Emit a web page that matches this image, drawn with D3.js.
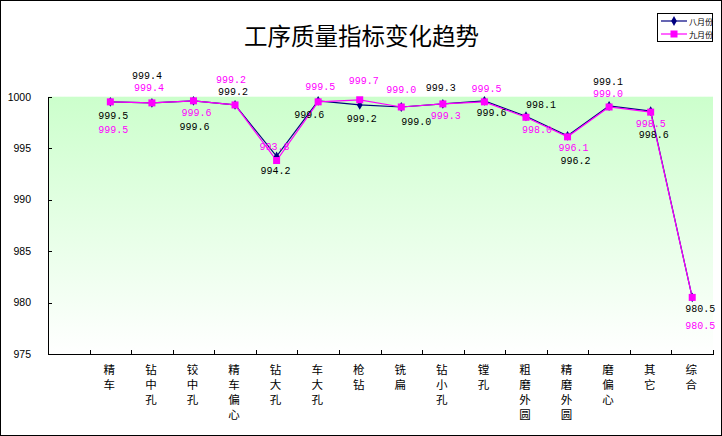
<!DOCTYPE html>
<html lang="zh-CN"><head><meta charset="utf-8">
<script src="https://cdn.jsdelivr.net/npm/d3@7"></script>
<style>
html,body{margin:0;padding:0;background:#fff;}
svg{display:block;}
</style></head>
<body>
<svg id="chart" width="722" height="436"></svg>
<script>
// ---- data ----
const title = "工序质量指标变化趋势";
const categories = ["", "精车", "钻中孔", "铰中孔", "精车偏心", "钻大孔", "车大孔", "枪钻", "铣扁", "钻小孔", "镗孔", "粗磨外圆", "精磨外圆", "磨偏心", "其它", "综合"];
const augValues = [null, 999.5, 999.4, 999.6, 999.2, 994.2, 999.6, 999.2, 999.0, 999.3, 999.6, 998.1, 996.2, 999.1, 998.6, 980.5];
const sepValues = [null, 999.5, 999.4, 999.6, 999.2, 993.8, 999.5, 999.7, 999.0, 999.3, 999.5, 998.0, 996.1, 999.0, 998.5, 980.5];
const seriesNames = ["八月份", "九月份"];
const yTickValues = [975, 980, 985, 990, 995, 1000];

// ---- layout (label offsets from each point, px) ----
const augLabelOffsets = [null, [3,15], [-5,-26], [1,27], [-2,-12], [-1,15], [-9,15], [2,15], [15,16], [-2,-15], [7,13], [15,-11], [8,26], [-1,-23], [3,24], [8,12]];
const sepLabelOffsets = [null, [3,29], [-3,-14], [3,13], [-4,-24], [-2,-13], [2,-14], [4,-18], [0,-16], [3,13], [2,-12], [11,13], [6,12], [-1,-12], [0,12], [8,29]];

const W = 722, H = 436;
const plot = {left: 48, right: 713, top: 96.7, bottom: 354};
const svg = d3.select("#chart");
const NAVY = "#000080", MAG = "#ff00ff";

// outer border
svg.append("rect").attr("x",0.5).attr("y",0.5).attr("width",W-1).attr("height",H-1)
  .attr("fill","#fff").attr("stroke","#000").attr("stroke-width",1);

// gradient
const defs = svg.append("defs");
const grad = defs.append("linearGradient").attr("id","bg").attr("x1",0).attr("y1",0).attr("x2",0).attr("y2",1);
grad.append("stop").attr("offset","0%").attr("stop-color","#ccffcc");
grad.append("stop").attr("offset","100%").attr("stop-color","#ffffff");

const x = d3.scaleBand().domain(d3.range(categories.length)).range([plot.left, plot.right]).padding(0);
const xb = d3.scaleLinear().domain([0, categories.length]).range([plot.left, plot.right]);
const y = d3.scaleLinear().domain([975, 1000]).range([plot.bottom, plot.top]);

svg.append("rect").attr("x",plot.left).attr("y",plot.top)
  .attr("width",plot.right-plot.left).attr("height",plot.bottom-plot.top).attr("fill","url(#bg)");

// title
svg.append("text").attr("x",361.5).attr("y",35).attr("text-anchor","middle").attr("dominant-baseline","central")
  .attr("font-family","'Noto Sans CJK SC', sans-serif").attr("font-size",23.5).attr("fill","#000").text(title);

// y axis
const yAxis = d3.axisLeft(y).tickValues(yTickValues).tickSizeInner(-4).tickSizeOuter(0).tickPadding(17).tickFormat(d3.format("d"));
const gy = svg.append("g").attr("transform",`translate(${plot.left},0)`).call(yAxis);
gy.selectAll("text").attr("font-family","'Liberation Sans', Arial, sans-serif").attr("font-size",10.5).attr("fill","#000");
gy.selectAll("line,path").attr("stroke","#000").attr("shape-rendering","crispEdges");

// x axis (ticks at category boundaries)
const xAxis = d3.axisBottom(xb).tickValues(d3.range(1, categories.length + 1)).tickSizeInner(-4).tickSizeOuter(0).tickFormat("");
const gx = svg.append("g").attr("transform",`translate(0,${plot.bottom})`).call(xAxis);
gx.selectAll("line,path").attr("stroke","#000").attr("shape-rendering","crispEdges");

// category labels (vertical, one character per line)
const catG = svg.append("g").attr("font-family","'Liberation Sans', 'Noto Sans CJK SC', sans-serif").attr("font-size",11.5).attr("fill","#000");
categories.forEach((c, i) => {
  const t = catG.append("text").attr("text-anchor","middle");
  Array.from(c).forEach((ch, k) => {
    t.append("tspan").attr("x", x(i) + x.bandwidth()/2 - 1).attr("y", 374 + k*15).text(ch);
  });
});

// series
const series = [
  {name: seriesNames[0], values: augValues, color: NAVY, marker: "diamond", offs: augLabelOffsets},
  {name: seriesNames[1], values: sepValues, color: MAG, marker: "square", offs: sepLabelOffsets}
];
const cx = i => x(i) + x.bandwidth()/2;
const line = d3.line().defined(d => d.v != null).x(d => cx(d.i)).y(d => y(d.v));

function drawMarker(g, type, px, py, color) {
  if (type === "diamond") {
    g.append("path").attr("d", d3.symbol(d3.symbolDiamond, 28)()).attr("transform",`translate(${px},${py})`).attr("fill",color);
  } else {
    g.append("rect").attr("x",px-3.5).attr("y",py-3.5).attr("width",7).attr("height",7).attr("fill",color);
  }
}

series.forEach(s => {
  const pts = s.values.map((v,i)=>({i,v}));
  svg.append("path").datum(pts).attr("d", line).attr("fill","none").attr("stroke",s.color).attr("stroke-width",1.2);
});
series.forEach(s => {
  const g = svg.append("g");
  s.values.forEach((v,i) => { if (v != null) drawMarker(g, s.marker, cx(i), y(v), s.color); });
});
// labels
series.forEach(s => {
  const g = svg.append("g").attr("font-family","'Liberation Mono', 'DejaVu Sans Mono', monospace").attr("font-size",10).attr("fill", s.color === NAVY ? "#000" : MAG);
  s.values.forEach((v,i) => {
    if (v == null) return;
    const o = s.offs[i];
    g.append("text").attr("x", cx(i) + o[0]).attr("y", y(v) + o[1]).attr("text-anchor","middle").attr("dominant-baseline","central").text(d3.format(".1f")(v));
  });
});

// legend
const lg = svg.append("g");
lg.append("rect").attr("x",657.5).attr("y",13.5).attr("width",55).attr("height",28).attr("fill","#fff").attr("stroke","#000");
series.forEach((s, k) => {
  const ly = 21 + k*13;
  lg.append("line").attr("x1",661).attr("x2",687).attr("y1",ly).attr("y2",ly).attr("stroke",s.color).attr("stroke-width",1.2);
  drawMarker(lg, s.marker, 674, ly, s.color);
  lg.append("text").attr("x",689).attr("y",ly).attr("dominant-baseline","central")
    .attr("font-family","'Noto Sans CJK SC', sans-serif").attr("font-size",8).attr("fill","#000").text(s.name);
});
</script>
</body></html>
